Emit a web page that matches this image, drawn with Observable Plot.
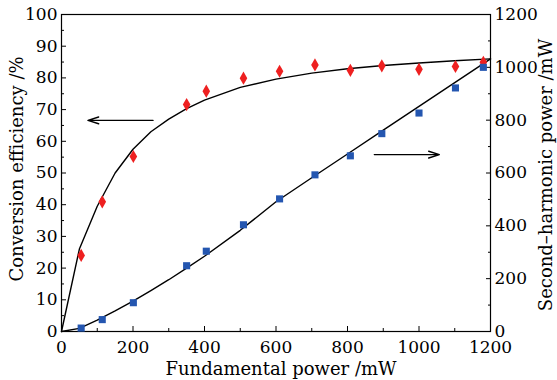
<!DOCTYPE html>
<html>
<head>
<meta charset="utf-8">
<script src="https://cdn.jsdelivr.net/npm/d3@7"></script>
<script src="https://cdn.jsdelivr.net/npm/@observablehq/plot@0.6"></script>
<style>
  html, body { margin: 0; padding: 0; background: white; }
</style>
</head>
<body>
<div id="chart"></div>
<script>
// Measured data
const power = [55, 114, 201, 350, 405, 509, 610, 709, 808, 896, 1000, 1102, 1180];
const efficiency = [24, 40.9, 55.2, 71.6, 75.8, 79.9, 82.1, 84.1, 82.4, 83.8, 82.7, 83.6, 84.9];
const shPower = [13, 45, 109, 249, 304, 404, 502, 593, 665, 749, 827, 922, 1000];

// Fitted curves
const fitX = [0, 50, 100, 150, 200, 250, 300, 350, 400, 500, 600, 700, 800, 900, 1000, 1100, 1200];
const fitEff = [0, 26, 39.5, 50, 57.5, 63, 67, 70.3, 73, 77, 79.6, 81.5, 82.9, 83.9, 84.7, 85.4, 86];
const fitSH = [0, 12, 43, 78, 115, 155, 196, 240, 285, 383, 491, 582, 672, 762, 852, 942, 1032];

// Tick values
const xTicks = [0, 200, 400, 600, 800, 1000, 1200];
const xMinor = [100, 300, 500, 700, 900, 1100];
const yTicks = [0, 10, 20, 30, 40, 50, 60, 70, 80, 90, 100];
const yMinor = [5, 15, 25, 35, 45, 55, 65, 75, 85, 95];
const y2Ticks = [0, 200, 400, 600, 800, 1000, 1200];
const y2Minor = [100, 300, 500, 700, 900, 1100];

// Labels
const xTitle = "Fundamental power /mW";
const yTitle = "Conversion efficiency /%";
const y2Title = "Second–harmonic power /mW";

// Annotation arrows (x in mW, y in efficiency units)
const arrowFrom = [256, 875];
const arrowTo = [74, 1057];
const arrowY = [66.6, 55.8];

// Right axis maps second-harmonic power onto left axis units
const y2 = d3.scaleLinear([0, 1200], [0, 100]);

const effPts = power.map((p, i) => ({p, v: efficiency[i]}));
const shPts = power.map((p, i) => ({p, v: y2(shPower[i])}));
const effFit = fitX.map((p, i) => ({p, v: fitEff[i]}));
const shFit = fitX.map((p, i) => ({p, v: y2(fitSH[i])}));
const arrows = arrowFrom.map((x1, i) => ({x1, x2: arrowTo[i], y: arrowY[i]}));

const FS = 17;   // tick labels
const TS = 18;   // axis titles

const chart = Plot.plot({
  width: 557,
  height: 380,
  marginLeft: 61,
  marginRight: 67,
  marginTop: 14,
  marginBottom: 49,
  style: {fontFamily: "DejaVu Serif", fontSize: FS + "px", background: "white", color: "black"},
  x: {domain: [0, 1200], axis: null},
  y: {domain: [0, 100], axis: null},
  marks: [
    Plot.frame({stroke: "black", strokeWidth: 1.2}),
    Plot.axisX(xTicks, {anchor: "bottom", tickSize: -5, tickPadding: 14, tickFormat: d => String(d), fontSize: FS}),
    Plot.axisX(xMinor, {anchor: "bottom", tickSize: -3, tickFormat: () => ""}),
    Plot.axisY(yTicks, {anchor: "left", tickSize: -5, tickPadding: 9, tickFormat: d => String(d), fontSize: FS}),
    Plot.axisY(yMinor, {anchor: "left", tickSize: -3, tickFormat: () => ""}),
    Plot.axisY(y2Ticks.map(y2), {anchor: "right", tickSize: -5, tickPadding: 9, tickFormat: d => String(Math.round(y2.invert(d))), fontSize: FS}),
    Plot.axisY(y2Minor.map(y2), {anchor: "right", tickSize: -3, tickFormat: () => ""}),
    Plot.line(effFit, {x: "p", y: "v", stroke: "black", strokeWidth: 1.4}),
    Plot.line(shFit, {x: "p", y: "v", stroke: "black", strokeWidth: 1.4}),
    Plot.dot(effPts, {x: "p", y: "v", symbol: "diamond", r: 4, fill: "#ee2020", stroke: "none"}),
    Plot.dot(shPts, {x: "p", y: "v", symbol: "square", r: 4, fill: "#2456b0", stroke: "none"}),
    Plot.arrow(arrows, {x1: "x1", x2: "x2", y1: "y", y2: "y", stroke: "black", strokeWidth: 1.4, headLength: 12, headAngle: 35}),
    Plot.text([xTitle], {frameAnchor: "bottom", dy: 38, dx: 5, lineAnchor: "middle", textAnchor: "middle", fontSize: TS}),
    Plot.text([yTitle], {frameAnchor: "left", dx: -44, dy: -4, rotate: -90, lineAnchor: "middle", textAnchor: "middle", fontSize: TS}),
    Plot.text([y2Title], {frameAnchor: "right", dx: 56, dy: 2, rotate: -90, lineAnchor: "middle", textAnchor: "middle", fontSize: TS})
  ]
});
document.getElementById("chart").appendChild(chart);
</script>
</body>
</html>
